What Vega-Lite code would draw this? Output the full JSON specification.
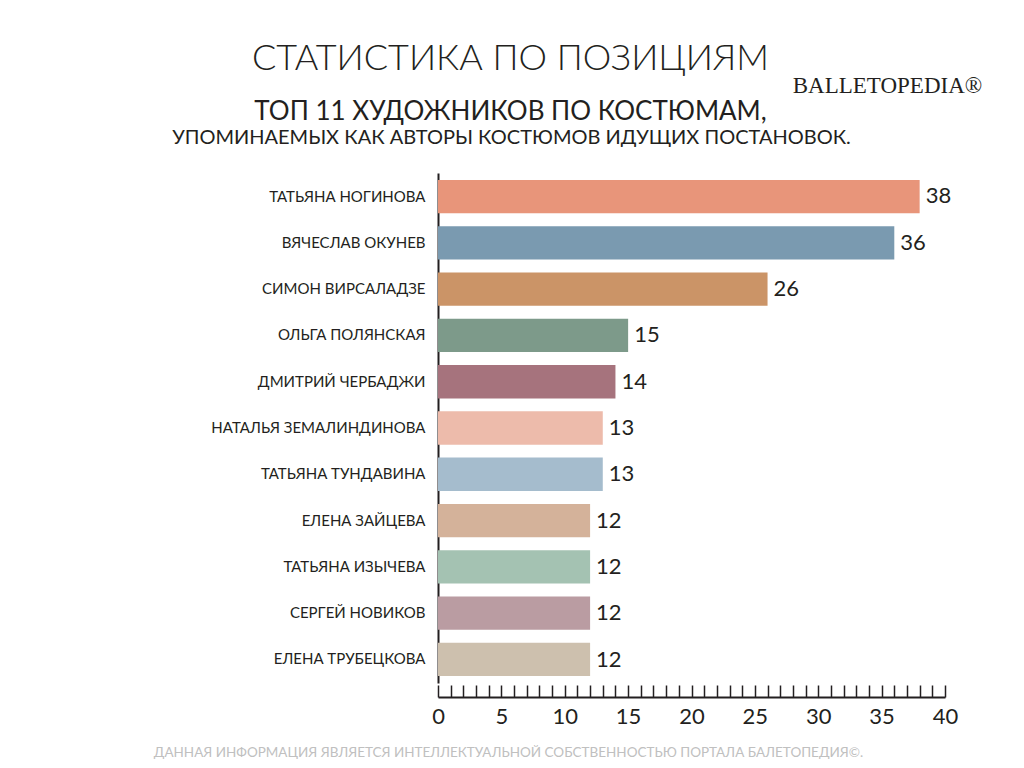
{
  "$schema": "https://vega.github.io/schema/vega-lite/v6.json",
  "width": 507,
  "height": 510,
  "autosize": "none",
  "padding": {"left": 438, "top": 173, "right": 79, "bottom": 85},
  "background": "white",
  "config": {"view": {"stroke": null}},
  "title": {
    "text": "СТАТИСТИКА ПО ПОЗИЦИЯМ",
    "subtitle": "ТОП 11 ХУДОЖНИКОВ ПО КОСТЮМАМ,",
    "anchor": "middle",
    "frame": "group",
    "dx": -181,
    "offset": -52,
    "font": "Lato",
    "fontSize": 36,
    "fontWeight": 300,
    "color": "#231f20",
    "subtitleFont": "Lato",
    "subtitleFontSize": 26,
    "subtitleFontWeight": 400,
    "subtitleColor": "#231f20",
    "subtitlePadding": 21
  },
  "data": {
    "values": [
      {"name": "Татьяна Ногинова", "value": 38},
      {"name": "Вячеслав Окунев", "value": 36},
      {"name": "Симон Вирсаладзе", "value": 26},
      {"name": "Ольга Полянская", "value": 15},
      {"name": "Дмитрий Чербаджи", "value": 14},
      {"name": "Наталья Земалиндинова", "value": 13},
      {"name": "Татьяна Тундавина", "value": 13},
      {"name": "Елена Зайцева", "value": 12},
      {"name": "Татьяна Изычева", "value": 12},
      {"name": "Сергей Новиков", "value": 12},
      {"name": "Елена Трубецкова", "value": 12}
    ]
  },
  "resolve": {"scale": {"y": "independent"}, "axis": {"y": "independent"}},
  "layer": [
    {
      "mark": {"type": "bar"},
      "encoding": {
        "y": {
          "field": "name",
          "type": "nominal",
          "sort": null,
          "scale": {"paddingInner": 0.28, "paddingOuter": 0.15},
          "axis": {
            "title": "УПОМИНАЕМЫХ КАК АВТОРЫ КОСТЮМОВ ИДУЩИХ ПОСТАНОВОК.",
            "titleAngle": 0,
            "titleX": 73,
            "titleY": -30,
            "titleAlign": "center",
            "titleBaseline": "alphabetic",
            "titleFont": "Lato",
            "titleFontSize": 20,
            "titleFontWeight": 400,
            "titleColor": "#231f20",
            "labelExpr": "upper(datum.label)",
            "labelFont": "Lato",
            "labelFontSize": 15,
            "labelColor": "#231f20",
            "labelPadding": 25,
            "labelLimit": 300,
            "tickSize": -12,
            "tickWidth": 2,
            "tickColor": "#231f20",
            "domainColor": "#231f20",
            "domainWidth": 2
          }
        },
        "x": {
          "field": "value",
          "type": "quantitative",
          "scale": {"domain": [0, 40], "nice": false},
          "axis": {
            "title": "ДАННАЯ ИНФОРМАЦИЯ ЯВЛЯЕТСЯ ИНТЕЛЛЕКТУАЛЬНОЙ СОБСТВЕННОСТЬЮ ПОРТАЛА БАЛЕТОПЕДИЯ©.",
            "titleX": 70,
            "titleY": 59,
            "titleAlign": "center",
            "titleBaseline": "alphabetic",
            "titleFont": "Lato",
            "titleFontSize": 13.5,
            "titleFontWeight": 400,
            "titleColor": "#c0c0c0",
            "offset": 14,
            "tickCount": 40,
            "tickSize": -12,
            "tickWidth": 1.5,
            "tickColor": "#231f20",
            "domainColor": "#231f20",
            "domainWidth": 2,
            "grid": false,
            "labelExpr": "datum.value % 5 === 0 ? datum.label : ''",
            "labelFlush": false,
            "labelFont": "Lato",
            "labelFontSize": 22,
            "labelColor": "#231f20",
            "labelPadding": 21
          }
        },
        "color": {
          "field": "name",
          "type": "nominal",
          "sort": null,
          "legend": null,
          "scale": {
            "domain": ["Татьяна Ногинова", "Вячеслав Окунев", "Симон Вирсаладзе", "Ольга Полянская", "Дмитрий Чербаджи", "Наталья Земалиндинова", "Татьяна Тундавина", "Елена Зайцева", "Татьяна Изычева", "Сергей Новиков", "Елена Трубецкова"],
            "range": ["#e8957a", "#7a9ab0", "#cb9467", "#7d9a8a", "#a6737d", "#edbbab", "#a5bccd", "#d4b29a", "#a4c2b2", "#ba9ca2", "#cdc0ae"]
          }
        }
      }
    },
    {
      "mark": {"type": "text", "align": "left", "baseline": "middle", "dx": 6, "font": "Lato", "fontSize": 22, "color": "#231f20"},
      "encoding": {
        "y": {
          "field": "name",
          "type": "nominal",
          "sort": null,
          "scale": {"paddingInner": 0.28, "paddingOuter": 0.15},
          "axis": {
            "orient": "right",
            "title": "BALLETOPEDIA®",
            "titleAngle": 0,
            "titleX": -58,
            "titleY": -81,
            "titleAlign": "center",
            "titleBaseline": "alphabetic",
            "titleFont": "Liberation Serif",
            "titleFontSize": 23,
            "titleFontWeight": 400,
            "titleColor": "#231f20",
            "labels": false,
            "ticks": false,
            "domain": false
          }
        },
        "x": {"field": "value", "type": "quantitative"},
        "text": {"field": "value", "type": "quantitative"}
      }
    }
  ]
}
